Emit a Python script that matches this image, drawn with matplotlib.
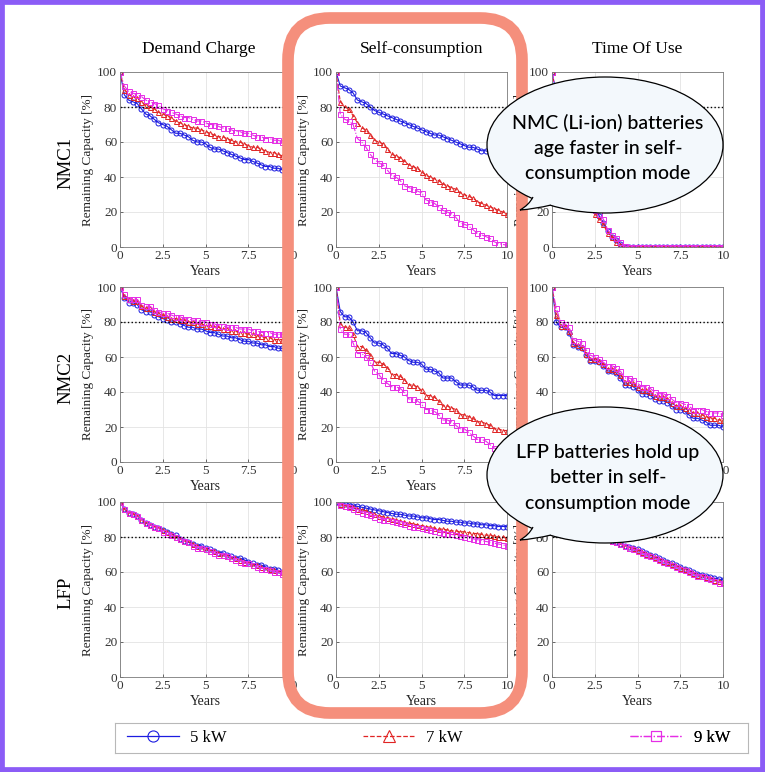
import numpy as np
import matplotlib.pyplot as plt
from matplotlib.patches import FancyBboxPatch, Ellipse, Rectangle, PathPatch
from matplotlib.path import Path
from matplotlib.lines import Line2D

plt.rcParams['font.family'] = ['Liberation Serif', 'DejaVu Serif']

# -------- data (remaining capacity %, read every quarter year) --------
years = np.linspace(0, 10, 41)
modes = ["Demand Charge", "Self-consumption", "Time Of Use"]
chemistries = ["NMC1", "NMC2", "LFP"]
powers = ["5 kW", "7 kW", "9 kW"]

nmc1_dc_5 = [100, 87, 84, 83, 82, 79, 76, 75, 73, 71, 70, 69, 67, 65, 65, 64, 63, 61, 60, 60, 59,
             57, 56, 56, 55, 54, 53, 52, 51, 50, 50, 49, 48, 47, 46, 46, 45, 45, 44, 43, 42]
nmc1_dc_7 = [100, 90, 87, 86, 85, 83, 81, 80, 79, 77, 76, 75, 74, 72, 71, 70, 69, 68, 68, 67, 66,
             65, 64, 63, 63, 62, 61, 60, 60, 59, 58, 57, 57, 56, 55, 54, 54, 53, 52, 51, 51]
nmc1_dc_9 = [100, 92, 89, 88, 87, 86, 84, 83, 82, 81, 79, 78, 77, 76, 75, 74, 74, 73, 72, 72, 71,
             70, 70, 69, 68, 68, 67, 66, 66, 65, 65, 64, 63, 63, 62, 62, 61, 61, 60, 59, 59]

nmc1_sc_5 = [100, 92, 91, 90, 88, 84, 83, 82, 80, 78, 77, 76, 75, 74, 73, 72, 71, 70, 69, 68, 67,
             66, 65, 64, 64, 63, 62, 61, 60, 59, 58, 57, 57, 56, 55, 55, 54, 53, 53, 52, 52]
nmc1_sc_7 = [100, 83, 80, 79, 75, 71, 68, 67, 64, 61, 60, 59, 56, 53, 52, 51, 49, 47, 46, 45, 43,
             41, 40, 39, 38, 36, 35, 34, 33, 31, 30, 29, 28, 26, 25, 24, 23, 22, 21, 20, 19]
nmc1_sc_9 = [100, 76, 73, 72, 70, 62, 60, 57, 53, 50, 48, 47, 44, 41, 40, 38, 35, 34, 33, 32, 31,
             27, 26, 25, 23, 21, 20, 19, 17, 14, 13, 12, 10, 8, 7, 6, 5, 3, 2, 1.5, 1]

nmc1_tou_5 = [100, 88, 80, 74, 67, 60, 53, 46, 38, 30, 22, 18, 14, 9, 6, 4, 2, 0, 0, 0, 0,
              0, 0, 0, 0, 0, 0, 0, 0, 0, 0, 0, 0, 0, 0, 0, 0, 0, 0, 0, 0]
nmc1_tou_7 = [100, 86, 78, 72, 65, 58, 50, 43, 35, 27, 19, 16, 13, 8, 6, 3, 1, 0, 0, 0, 0,
              0, 0, 0, 0, 0, 0, 0, 0, 0, 0, 0, 0, 0, 0, 0, 0, 0, 0, 0, 0]
nmc1_tou_9 = [100, 87, 80, 74, 67, 60, 52, 45, 37, 29, 21, 19, 16, 10, 7, 5, 3, 0.5, 0, 0, 0,
              0, 0, 0, 0, 0, 0, 0, 0, 0, 0, 0, 0, 0, 0, 0, 0, 0, 0, 0, 0]

nmc2_dc_5 = [100, 94, 91, 91, 90, 87, 86, 86, 84, 83, 82, 81, 80, 80, 79, 78, 77, 77, 76, 76, 75,
             74, 74, 73, 72, 72, 71, 71, 70, 69, 69, 68, 68, 67, 67, 66, 66, 65, 65, 64, 64]
nmc2_dc_7 = [100, 95, 93, 92, 92, 89, 88, 88, 86, 85, 84, 83, 82, 82, 81, 81, 80, 80, 79, 79, 78,
             78, 77, 77, 76, 76, 75, 75, 74, 74, 73, 73, 72, 72, 71, 71, 70, 70, 70, 69, 69]
nmc2_dc_9 = [100, 96, 93, 93, 93, 90, 89, 89, 87, 86, 85, 85, 84, 83, 83, 82, 82, 81, 81, 80, 80,
             79, 79, 78, 78, 77, 77, 77, 76, 76, 76, 75, 75, 74, 74, 74, 73, 73, 73, 72, 72]

nmc2_sc_5 = [100, 86, 83, 83, 80, 75, 75, 74, 71, 68, 68, 67, 65, 62, 62, 61, 60, 58, 57, 57, 56,
             53, 53, 52, 51, 48, 48, 48, 46, 44, 44, 44, 43, 41, 41, 41, 40, 38, 38, 38, 38]
nmc2_sc_7 = [100, 79, 77, 77, 73, 66, 66, 64, 61, 57, 57, 56, 54, 50, 50, 49, 47, 44, 44, 43, 41,
             38, 38, 37, 35, 32, 32, 31, 30, 27, 27, 26, 25, 23, 23, 22, 21, 19, 19, 18, 18]
nmc2_sc_9 = [100, 76, 73, 73, 68, 62, 62, 60, 57, 52, 50, 47, 45, 43, 43, 42, 40, 36, 36, 35, 33,
             30, 30, 29, 27, 24, 24, 23, 21, 19, 19, 17, 15, 13, 13, 12, 10, 8, 7, 6, 5]

nmc2_tou_5 = [100, 80, 77, 77, 74, 67, 66, 65, 61, 58, 58, 57, 55, 52, 52, 51, 48, 44, 44, 43, 41,
              39, 39, 38, 36, 35, 35, 34, 32, 30, 30, 29, 27, 25, 25, 24, 23, 21, 21, 21, 20]
nmc2_tou_7 = [100, 84, 78, 78, 75, 68, 67, 66, 62, 59, 59, 58, 56, 53, 53, 52, 50, 46, 46, 45, 43,
              41, 41, 40, 38, 37, 37, 36, 34, 32, 32, 31, 30, 28, 28, 27, 26, 25, 25, 24, 24]
nmc2_tou_9 = [100, 88, 80, 79, 77, 70, 69, 68, 64, 61, 60, 59, 57, 55, 55, 54, 52, 48, 48, 47, 45,
              43, 43, 42, 40, 39, 39, 38, 36, 34, 34, 33, 32, 30, 30, 30, 29, 28, 28, 28, 27]

lfp_dc_5 = [100, 96, 94, 93, 92, 90, 88, 87, 86, 85, 84, 83, 82, 81, 79, 78, 77, 76, 75, 75, 74,
            73, 72, 71, 71, 70, 69, 68, 68, 67, 66, 65, 64, 64, 63, 62, 62, 61, 60, 60, 59]
lfp_dc_7 = [100, 96, 94, 93, 92, 90, 88, 87, 86, 85, 84, 83, 82, 80, 79, 78, 77, 76, 75, 74, 73,
            72, 72, 71, 70, 69, 68, 68, 67, 66, 65, 64, 64, 63, 62, 62, 61, 60, 60, 59, 58]
lfp_dc_9 = [100, 96, 94, 93, 92, 90, 88, 87, 86, 85, 83, 82, 81, 80, 79, 78, 77, 75, 74, 74, 73,
            72, 71, 70, 70, 69, 68, 67, 66, 65, 65, 64, 63, 62, 62, 61, 60, 60, 59, 58, 58]

lfp_sc_5 = [100, 99.5, 99, 98.5, 98, 97.5, 97, 96.5, 96, 95.5, 95, 94.5, 94, 93.5, 93, 93, 92.5,
            92, 92, 91.5, 91, 91, 90.5, 90, 90, 89.5, 89, 89, 88.5, 88.5, 88, 88, 87.5, 87.5, 87,
            87, 86.5, 86.5, 86, 86, 86]
lfp_sc_7 = [100, 99, 98, 97.5, 97, 96, 95.5, 95, 94, 93, 92, 91.5, 91, 90.5, 90, 89, 88.5, 88,
            87.5, 87, 86.5, 86, 85.5, 85, 84.5, 84.5, 84, 83.5, 83.5, 83, 83, 82.5, 82, 82, 81.5,
            81, 81, 80.5, 80, 80, 79.5]
lfp_sc_9 = [100, 98.5, 97.5, 97, 96, 95, 94, 93, 92.5, 91.5, 90.5, 90, 89.5, 89, 88.5, 88, 87.5,
            86.5, 86, 85.5, 85, 84.5, 84, 83.5, 83, 82.5, 82, 81.5, 81, 80.5, 80, 79.5, 79, 78.5,
            78, 77.5, 77, 76.5, 76, 75.5, 75]

lfp_tou_5 = [100, 95, 93, 91, 90, 89, 88, 87, 86, 85, 84, 82, 81, 79, 78, 77, 76, 75, 74.5, 74, 73,
             72, 71, 70, 69, 68, 67, 66, 65, 64, 63, 62, 61, 60, 59, 58.5, 58, 57, 56.5, 56, 55.5]
lfp_tou_7 = [100, 95, 93, 91, 90, 89, 88, 87, 86, 85, 84, 82, 81, 79, 78, 77, 76, 75, 74, 73.5, 72.5,
             71.5, 70.5, 69.5, 68.5, 67.5, 66.5, 65.5, 64.5, 63.5, 62.5, 61.5, 60.5, 59.5, 58.5, 58,
             57, 56.5, 55.5, 55, 54.5]
lfp_tou_9 = [100, 95, 93, 91, 90, 89, 88, 87, 86, 85, 84, 82, 81, 79, 78, 77, 76, 75, 74, 73, 72,
             71, 70, 69, 68, 67, 66, 65, 64, 63, 62, 61, 60, 59, 58, 57.5, 56.5, 56, 55, 54, 53.5]

grid_data = [
    [(nmc1_dc_5, nmc1_dc_7, nmc1_dc_9), (nmc1_sc_5, nmc1_sc_7, nmc1_sc_9), (nmc1_tou_5, nmc1_tou_7, nmc1_tou_9)],
    [(nmc2_dc_5, nmc2_dc_7, nmc2_dc_9), (nmc2_sc_5, nmc2_sc_7, nmc2_sc_9), (nmc2_tou_5, nmc2_tou_7, nmc2_tou_9)],
    [(lfp_dc_5, lfp_dc_7, lfp_dc_9), (lfp_sc_5, lfp_sc_7, lfp_sc_9), (lfp_tou_5, lfp_tou_7, lfp_tou_9)],
]

colors = ['#1c1ce0', '#e02424', '#e62ee6']
styles = ['-', '--', '-.']
markers = ['o', '^', 's']

bubble_texts = ["NMC (Li-ion) batteries\nage faster in self-\nconsumption mode",
                "LFP batteries hold up\nbetter in self-\nconsumption mode"]

# -------- layout (pixels) --------
W, H = 765, 772
fig = plt.figure(figsize=(W / 100, H / 100), dpi=100)
fig.patch.set_facecolor('white')

col_left = [120, 336, 552]
row_top = [72, 287, 502]
ax_w, ax_h = 171, 175


def pin(x, y):
    # pixel (from top-left) -> inches for fig.dpi_scale_trans
    return x / 100, (H - y) / 100


for r in range(3):
    for c in range(3):
        ax = fig.add_axes([col_left[c] / W, 1 - (row_top[r] + ax_h) / H, ax_w / W, ax_h / H])
        for k in range(3):
            ax.plot(years, grid_data[r][c][k], linestyle=styles[k], color=colors[k],
                    marker=markers[k], markersize=3.6, markerfacecolor='none',
                    markeredgewidth=0.7, linewidth=0.8)
        ax.plot([0, 10], [80, 80], 'k:', linewidth=1.0)
        ax.set_xlim(0, 10)
        ax.set_ylim(0, 100)
        ax.set_xticks([0, 2.5, 5, 7.5, 10])
        ax.set_xticklabels(['0', '2.5', '5', '7.5', '10'])
        ax.set_yticks([0, 20, 40, 60, 80, 100])
        ax.tick_params(direction='in', length=2.5, width=0.5, labelsize=9.5, colors='#333333', pad=2)
        ax.grid(True, color='#e3e3e3', linewidth=0.6)
        ax.set_axisbelow(True)
        for sp in ax.spines.values():
            sp.set_color('#7a7a7a')
            sp.set_linewidth(0.6)
        ax.set_xlabel("Years", fontsize=10, labelpad=2.5, color='#222222')
        ax.set_ylabel("Remaining Capacity [%]", fontsize=9.5, labelpad=2, color='#222222')
        if r == 0:
            ax.set_title(modes[c], fontsize=12.5, pad=14, x=0.46 if c == 0 else 0.5)
        if c == 0:
            ax.text(-0.316, 0.48, chemistries[r], transform=ax.transAxes, rotation=90,
                    fontsize=13.5, ha='center', va='center')

# -------- legend --------
leg_ax = fig.add_axes([115 / W, 1 - 753 / H, 633 / W, 30 / H])
leg_ax.set_xticks([])
leg_ax.set_yticks([])
for sp in leg_ax.spines.values():
    sp.set_color('#b8b8b8')
    sp.set_linewidth(0.8)
leg_pos = [0.019, 0.392, 0.814]
leg_ms = [8, 8.5, 7.5]
for k in range(3):
    h = Line2D([], [], linestyle=styles[k], color=colors[k], marker=markers[k],
               markersize=leg_ms[k], markerfacecolor='none', markeredgewidth=0.8, linewidth=0.9)
    lg = leg_ax.legend(handles=[h], labels=[powers[k]], loc='center left',
                       bbox_to_anchor=(leg_pos[k], 0.5), frameon=False, fontsize=12,
                       handlelength=3.1, handletextpad=0.7, borderpad=0, borderaxespad=0)
    leg_ax.add_artist(lg)

# -------- highlight box around self-consumption --------
x0, y0 = pin(288, 713)
x1, y1 = pin(522, 18)
hl = FancyBboxPatch((x0, y0), x1 - x0, y1 - y0, boxstyle="round,pad=0,rounding_size=0.42",
                    transform=fig.dpi_scale_trans, facecolor='none', edgecolor='#f58f7c',
                    linewidth=8.4, zorder=10)
fig.add_artist(hl)

# -------- speech bubbles --------
bubble_face = '#f3f8fc'
bubbles = [(605, 145, 520, 210), (605, 475, 520, 540)]
for (cx, cy, tx, ty), txt in zip(bubbles, bubble_texts):
    ex, ey = pin(cx, cy)
    ell = Ellipse((ex, ey), 2.36, 1.36, transform=fig.dpi_scale_trans, facecolor=bubble_face,
                  edgecolor='black', linewidth=0.9, zorder=11)
    fig.add_artist(ell)
    a = pin(cx - 72, cy + 52)
    b = pin(cx - 54, cy + 60)
    t = pin(tx, ty)
    ca = pin(cx - 76, cy + 60)
    cb = pin(cx - 70, cy + 64)
    inner_a = pin(cx - 70, cy + 46)
    inner_b = pin(cx - 52, cy + 54)
    fill_path = Path([inner_a, a, ca, t, cb, b, inner_b, inner_a],
                     [Path.MOVETO, Path.LINETO, Path.CURVE3, Path.CURVE3, Path.CURVE3, Path.CURVE3,
                      Path.LINETO, Path.CLOSEPOLY])
    fig.add_artist(PathPatch(fill_path, transform=fig.dpi_scale_trans, facecolor=bubble_face,
                             edgecolor='none', zorder=12))
    side_path = Path([a, ca, t, cb, b],
                     [Path.MOVETO, Path.CURVE3, Path.CURVE3, Path.CURVE3, Path.CURVE3])
    fig.add_artist(PathPatch(side_path, transform=fig.dpi_scale_trans, facecolor='none',
                             edgecolor='black', linewidth=0.9, zorder=13))
    fig.text(ex + 0.03, ey - 0.03, txt, transform=fig.dpi_scale_trans, ha='center', va='center',
             fontsize=14, family=['Lato', 'DejaVu Sans'], fontweight='medium',
             linespacing=1.6, zorder=14)

# -------- purple frame --------
fig.add_artist(Rectangle((0, 0), 1, 1, transform=fig.transFigure, facecolor='none',
                         edgecolor='#8b5cf6', linewidth=7, zorder=20))

fig.savefig("out.png", dpi=100)
